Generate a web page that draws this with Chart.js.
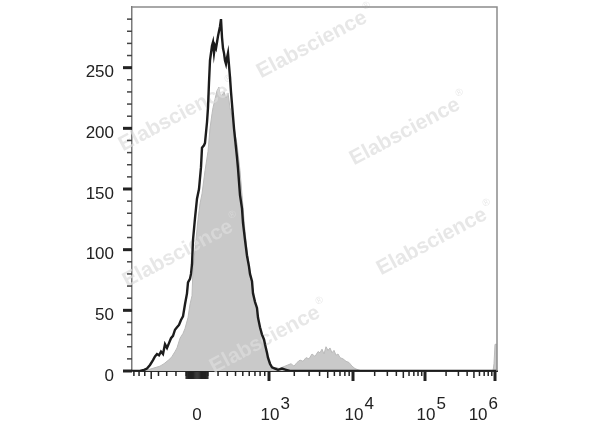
<!DOCTYPE html>
<html>
<head>
<meta charset="utf-8">
<script src="https://cdn.jsdelivr.net/npm/chart.js@4.4.0/dist/chart.umd.min.js"></script>
<style>
html,body{margin:0;padding:0;background:#fff;}
#wrap{width:600px;height:427px;position:relative;}
</style>
</head>
<body>
<div id="wrap"><canvas id="c" width="600" height="427"></canvas></div>
<script>
// ---- data (x = display channel, y = cell count) ----
const blackCh = [0,8,12,15,18,21,23,25,27,29,31,33,35,37,39,41,43,45,47,49,51,53,55,56,58,59,60,61,63,65,67,69,70,72,73,75,76,77,78,80,81,82,83,84,85,86,87,88,89,90,91,92,93,94,95,96,97,98,99,100,102,103,105,106,108,110,111,113,115,117,118,120,121,123,125,126,128,130,132,133,135,136,138,140,143,146,150,154,158,365];
const blackCount = [0,0,1,2,5,9,12,14,13,16,14,22,19,23,27,29,34,36,38,42,45,55,64,73,76,80,88,108,126,142,150,168,184,186,188,205,217,238,256,268,271,262,268,266,271,276,280,284,290,275,266,262,256,253,258,262,252,242,230,220,200,192,176,167,145,134,122,108,95,86,80,74,64,57,52,44,36,30,26,22,15,11,6,3,2,1,2,1,0,0];

const greyCh = [0,13,16,20,24,28,32,35,38,40,43,45,48,51,53,56,58,60,61,63,66,68,70,73,76,78,80,81,83,85,87,88,90,92,94,96,98,100,101,103,105,108,110,113,115,118,120,123,126,128,130,133,136,138,141,144,147,150,153,156,159,162,165,168,171,174,177,180,183,186,188,190,192,194,196,198,200,202,204,206,208,211,214,217,220,223,226,230,361,362,363,365];
const greyCount = [0,0,1,2,3,4,6,8,10,12,16,19,27,31,35,44,55,62,85,100,125,138,146,165,181,200,212,217,224,231,234,228,227,230,225,229,217,210,206,196,187,165,145,115,100,82,72,56,43,35,28,18,8,4,2,3,2,3,4,5,6,4,7,9,8,11,10,14,12,16,15,18,14,20,17,19,15,17,13,14,11,10,8,7,4,2,1,0,0,6,22,22];

// ---- axis definitions ----
const yMin = 0, yMax = 300, yMajorStep = 50, yMinorStep = 10;
const decadeExps = [3, 4, 5, 6];
const decadeCh = [137, 221, 293, 363];   // axis calibration: channel of 10^3..10^6
const zeroCh = 65;                        // axis calibration: channel of 0
const xChMin = 0, xChMax = 365;
const zeroLabel = '0';

function valueToCh(v) {
  if (v >= 1000) {
    const lg = Math.log10(v);
    const n = Math.floor(lg + 1e-9);
    const i = n - 3;
    if (i >= decadeCh.length - 1) return decadeCh[decadeCh.length - 1];
    return decadeCh[i] + (lg - n) * (decadeCh[i + 1] - decadeCh[i]);
  }
  const s = Math.sign(v);
  const half = decadeCh[0] - zeroCh;
  return zeroCh + s * half * Math.asinh(Math.abs(v) / 400) / Math.asinh(2.5);
}

// x tick marks (values in data units)
const xTicks = [];
for (let n = 3; n <= 5; n++) for (let k = 2; k <= 9; k++) xTicks.push({v: k * Math.pow(10, n), len: k === 5 ? 7 : 5, w: 1.5});
for (let v = -800; v <= 900; v += 100) if (v !== 0) xTicks.push({v: v, len: v === -500 ? 8 : 5, w: 1.5});
for (let v = -100; v <= 100; v += 10) xTicks.push({v: v, len: 8, w: 1.4});
decadeExps.forEach(e => xTicks.push({v: Math.pow(10, e), len: 10, w: 3}));

const toPts = (xs, ys) => xs.map((x, i) => ({x: x, y: ys[i]}));

const FONT = '"Liberation Sans", Arial, sans-serif';

const decorPlugin = {
  id: 'decor',
  afterDatasetDraw(chart, args) {
    if (args.index !== 1) return;
    const ctx = chart.ctx;
    const marks = [[312, 45], [174, 118], [405, 132], [432, 242], [178, 254], [265, 340]];
    ctx.save();
    ctx.fillStyle = 'rgba(221,221,221,0.7)';
    marks.forEach(([cx, cy]) => {
      ctx.save();
      ctx.translate(cx, cy);
      ctx.rotate(-28 * Math.PI / 180);
      ctx.font = 'bold 21px ' + FONT;
      ctx.textAlign = 'center';
      ctx.textBaseline = 'middle';
      const w = ctx.measureText('Elabscience').width;
      ctx.fillText('Elabscience', 0, 0);
      ctx.font = '10px ' + FONT;
      ctx.textAlign = 'left';
      ctx.fillText('\u00AE', w / 2 + 2, -9);
      ctx.restore();
    });
    ctx.restore();
  },
  afterDraw(chart) {
    const ctx = chart.ctx;
    const a = chart.chartArea;
    const xs = chart.scales.x, ys = chart.scales.y;
    ctx.save();
    // top/right frame
    ctx.strokeStyle = '#8c8c8c';
    ctx.lineWidth = 1.5;
    ctx.beginPath();
    ctx.moveTo(a.left, a.top); ctx.lineTo(a.right, a.top); ctx.lineTo(a.right, a.bottom);
    ctx.stroke();
    // y tick marks
    for (let v = yMin; v < yMax; v += yMinorStep) {
      const y = ys.getPixelForValue(v);
      const major = v % yMajorStep === 0;
      ctx.strokeStyle = major ? '#222' : '#444';
      ctx.lineWidth = major ? 3 : 1.5;
      ctx.beginPath();
      ctx.moveTo(a.left - (major ? 9 : 5), y); ctx.lineTo(a.left, y);
      ctx.stroke();
    }
    // x tick marks
    ctx.strokeStyle = '#222';
    xTicks.forEach(t => {
      const x = xs.getPixelForValue(valueToCh(t.v));
      if (x < a.left - 0.5 || x > a.right + 1) return;
      ctx.lineWidth = t.w;
      ctx.beginPath();
      ctx.moveTo(x, a.bottom); ctx.lineTo(x, a.bottom + t.len);
      ctx.stroke();
    });
    // x labels
    ctx.fillStyle = '#222';
    ctx.textBaseline = 'alphabetic';
    ctx.font = '17px ' + FONT;
    ctx.textAlign = 'center';
    ctx.fillText(zeroLabel, xs.getPixelForValue(zeroCh), 420);
    ctx.textAlign = 'left';
    decadeExps.forEach((e, i) => {
      const tx = xs.getPixelForValue(decadeCh[i]);
      ctx.font = '17px ' + FONT;
      const w = ctx.measureText('10').width;
      const sup = String(e);
      const ws = ctx.measureText(sup).width;
      let x0 = tx + 1 - w / 2;
      if (x0 + w + 1 + ws > a.right + 1) x0 = a.right + 1 - ws - 1 - w;
      ctx.fillText('10', x0, 420);
      ctx.fillText(sup, x0 + w + 1, 409);
    });
    ctx.restore();
  }
};

function noPad(s) { s.paddingTop = 0; s.paddingBottom = 0; s.paddingLeft = 0; s.paddingRight = 0; }

new Chart(document.getElementById('c'), {
  type: 'line',
  data: {
    datasets: [
      {
        label: 'Stained',
        data: toPts(blackCh, blackCount),
        borderColor: '#1c1c1c',
        borderWidth: 2.4,
        fill: false,
        pointRadius: 0,
        tension: 0,
        order: 0
      },
      {
        label: 'Control',
        data: toPts(greyCh, greyCount),
        borderColor: '#bababa',
        borderWidth: 1,
        backgroundColor: '#c9c9c9',
        fill: 'origin',
        pointRadius: 0,
        tension: 0,
        order: 1
      }
    ]
  },
  options: {
    responsive: false,
    devicePixelRatio: 1,
    animation: false,
    layout: {padding: {left: 0, right: 103, top: 7, bottom: 0}},
    plugins: {legend: {display: false}, tooltip: {enabled: false}},
    scales: {
      x: {
        type: 'linear',
        min: xChMin,
        max: xChMax,
        grid: {display: false, drawTicks: false},
        border: {display: true, color: '#2a2a2a', width: 2},
        ticks: {display: false},
        afterFit(s) { s.height = 56; noPad(s); }
      },
      y: {
        min: yMin,
        max: yMax,
        grid: {display: false, drawTicks: false},
        border: {display: true, color: '#7a7a7a', width: 1.5},
        ticks: {
          stepSize: yMajorStep,
          padding: 18,
          labelOffset: 5,
          color: '#222',
          font: {family: FONT, size: 17},
          callback: v => (v <= 250 ? String(v) : '')
        },
        afterFit(s) { s.width = 132; noPad(s); }
      }
    }
  },
  plugins: [decorPlugin]
});
</script>
</body>
</html>
